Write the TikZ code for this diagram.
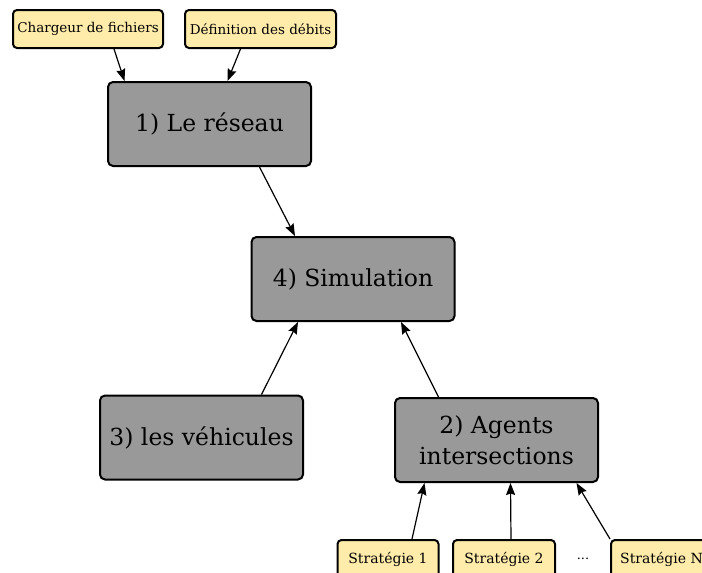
\documentclass[tikz,border=0pt]{standalone}
\usepackage{fontspec}
\setmainfont{DejaVu Serif}
\usetikzlibrary{arrows.meta}
\definecolor{boxgray}{RGB}{153,153,153}
\definecolor{boxyellow}{RGB}{255,236,170}
\begin{document}
\begin{tikzpicture}[x=1pt,y=-1pt,
        bigbox/.style={draw, line width=2pt, rounded corners=5pt, fill=boxgray,
            minimum width=203pt, minimum height=84pt, align=center,
            font=\fontsize{23.5}{31}\selectfont},
        smallbox/.style={draw, line width=2pt, rounded corners=4pt, fill=boxyellow,
            minimum height=38pt, inner sep=1pt, font=\fontsize{13.5}{16}\selectfont},
        link/.style={line width=1.2pt, -{Stealth[length=12pt,width=9pt,inset=1.5pt]}}]
        \clip (0,0) rectangle (702,573);
        % small input boxes
        \node [smallbox, minimum width=150pt] (chargeur) at (88,29) {Chargeur de fichiers};
        \node [smallbox, minimum width=151pt] (debits) at (260.5,29) {Définition des débits};
        % main blocks
        \node [bigbox] (reseau) at (209.5,124) {1) Le réseau};
        \node [bigbox] (simulation) at (353,279) {4) Simulation};
        \node [bigbox] (vehicules) at (201.5,437.5) {3) les véhicules};
        \node [bigbox] (agents) at (496.5,440) {2) Agents\\intersections};
        % strategies
        \node [smallbox, minimum width=101pt, font=\fontsize{14}{17}\selectfont] (strat1) at (388,559) {Stratégie 1};
        \node [smallbox, minimum width=102pt, font=\fontsize{14}{17}\selectfont] (strat2) at (504,559) {Stratégie 2};
        \node [font=\fontsize{13}{16}\selectfont] (dots) at (583,559) {...};
        \node [smallbox, minimum width=101pt, anchor=north west, font=\fontsize{14}{17}\selectfont] (stratN) at (610,539) {Stratégie N};
        % links
        \draw[link] ([xshift=26pt]chargeur.south) -- ([xshift=-85pt]reseau.north);
        \draw[link] ([xshift=-20pt]debits.south) -- ([xshift=18pt]reseau.north);
        \draw[link] ([xshift=50pt]reseau.south) -- ([xshift=-58pt]simulation.north);
        \draw[link] ([xshift=60pt]vehicules.north) -- ([xshift=-55pt]simulation.south);
        \draw[link] ([xshift=-58pt]agents.north) -- ([xshift=48pt]simulation.south);
        \draw[link] ([xshift=24pt]strat1.north) -- ([xshift=-72pt]agents.south);
        \draw[link] ([xshift=7pt]strat2.north) -- ([xshift=14pt]agents.south);
        \draw[link] (stratN.north west) -- ([xshift=80pt]agents.south);
\end{tikzpicture}
\end{document}
